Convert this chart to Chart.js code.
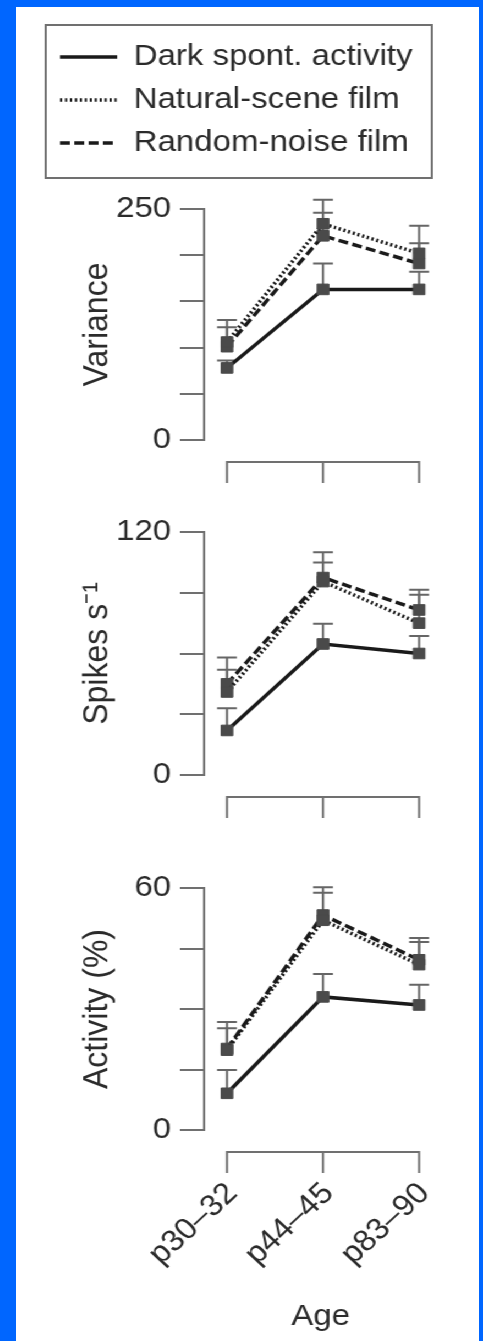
<!DOCTYPE html>
<html>
<head>
<meta charset="utf-8">
<script src="https://cdn.jsdelivr.net/npm/chart.js@4/dist/chart.umd.min.js"></script>
<style>
html, body { margin: 0; padding: 0; background: #0066ff; width: 483px; height: 1341px; overflow: hidden; }
#panel { position: absolute; left: 16px; top: 7px; width: 463px; height: 1334px; background: #fff; }
#wrap { position: absolute; left: 16px; top: 0; width: 421px; height: 1341px; transform: scaleX(1.1); transform-origin: 0 0; }
#wrap canvas { position: absolute; left: 0; }
</style>
</head>
<body>
<div id="panel"></div>
<div id="wrap">
  <canvas id="variance" width="421" height="500" style="top:0px"></canvas>
  <canvas id="spikes" width="421" height="330" style="top:500px"></canvas>
  <canvas id="activity" width="421" height="511" style="top:830px"></canvas>
</div>
<script>
// data
const ages = ['p30–32', 'p44–45', 'p83–90'];
const seriesNames = ['Dark spont. activity', 'Natural-scene film', 'Random-noise film'];

const varianceDark = [78, 163, 163];
const varianceDarkErr = [8, 28, 19];
const varianceNatural = [106, 234, 202];
const varianceNaturalErr = [24, 26, 30];
const varianceRandom = [101, 221, 191];
const varianceRandomErr = [21, 25, 22];
const varianceTicks = [0, 50, 100, 150, 200, 250];

const spikesDark = [22, 64.7, 60];
const spikesDarkErr = [11, 10, 8.6];
const spikesNatural = [41, 95.5, 75];
const spikesNaturalErr = [11, 9.5, 14];
const spikesRandom = [45, 97.5, 81.5];
const spikesRandomErr = [13, 12.5, 10];
const spikesTicks = [0, 30, 60, 90, 120];

const activityDark = [9.1, 33, 31];
const activityDarkErr = [5.8, 5.7, 5];
const activityNatural = [19.8, 52, 41];
const activityNaturalErr = [7, 6.8, 5.6];
const activityRandom = [20.2, 53.3, 42.2];
const activityRandomErr = [5, 6.9, 5.4];
const activityTicks = [0, 15, 30, 45, 60];

const FONT = '"Liberation Sans", Arial, Helvetica, sans-serif';
const INK = '#2b2b2b';
const AXIS = '#707070';
const X_MIN = -0.238;
const X_MAX = 2.19;

Chart.defaults.font.family = FONT;

const lineStyles = [
    { borderColor: '#1a1a1a', borderWidth: 3.5, borderDash: [] },
    { borderColor: '#1a1a1a', borderWidth: 3.5, borderDash: [2, 2.5] },
    { borderColor: '#1a1a1a', borderWidth: 3.5, borderDash: [9, 4] }
];

function makeDatasets(series, errors) {
    return series.map(function (values, s) {
        return Object.assign({
            label: seriesNames[s],
            data: values.map(function (v, i) { return { x: i, y: v }; }),
            errors: errors[s],
            tension: 0,
            fill: false,
            pointStyle: 'rect',
            pointRadius: 7.5,
            pointBackgroundColor: '#4a4a4a',
            pointBorderColor: '#4a4a4a',
            pointBorderWidth: 1
        }, lineStyles[s]);
    });
}

// upward error bars with caps
const errorBars = {
    id: 'errorBars',
    beforeDatasetsDraw(chart) {
        const ctx = chart.ctx, y = chart.scales.y;
        ctx.save();
        ctx.strokeStyle = '#666';
        ctx.lineWidth = 2;
        chart.data.datasets.forEach(function (ds, i) {
            chart.getDatasetMeta(i).data.forEach(function (pt, j) {
                const top = y.getPixelForValue(ds.data[j].y + ds.errors[j]);
                ctx.beginPath();
                ctx.moveTo(pt.x, pt.y);
                ctx.lineTo(pt.x, top);
                ctx.moveTo(pt.x - 9, top);
                ctx.lineTo(pt.x + 9, top);
                ctx.stroke();
            });
        });
        ctx.restore();
    }
};

// the detached age bracket under each panel
const ageBracket = {
    id: 'ageBracket',
    afterDraw(chart) {
        const x = chart.scales.x, ctx = chart.ctx;
        const top = chart.chartArea.bottom + 22, bottom = top + 21;
        const xs = ages.map(function (a, i) { return x.getPixelForValue(i); });
        ctx.save();
        ctx.strokeStyle = AXIS;
        ctx.lineWidth = 2;
        ctx.beginPath();
        ctx.moveTo(xs[0], bottom);
        ctx.lineTo(xs[0], top);
        ctx.lineTo(xs[2], top);
        ctx.lineTo(xs[2], bottom);
        ctx.moveTo(xs[1], top);
        ctx.lineTo(xs[1], bottom);
        ctx.stroke();
        ctx.restore();
    }
};

// extra room under the legend and a frame round it
const legendFrame = {
    id: 'legendFrame',
    beforeInit(chart) {
        const fit = chart.legend.fit;
        chart.legend.fit = function () {
            fit.call(this);
            this.height += 41;
        };
    },
    afterDraw(chart) {
        const lg = chart.legend, ctx = chart.ctx;
        ctx.save();
        ctx.strokeStyle = AXIS;
        ctx.lineWidth = 2;
        ctx.strokeRect(lg.left, lg.top - 4, 351, 153);
        ctx.restore();
    }
};

function yAxis(title, tickVals) {
    const last = tickVals[tickVals.length - 1];
    return {
        type: 'linear',
        min: tickVals[0],
        max: last,
        afterFit: function (scale) { scale.width = 144; },
        afterBuildTicks: function (scale) {
            scale.ticks = tickVals.map(function (v) { return { value: v }; });
        },
        border: { display: true, color: AXIS, width: 2 },
        grid: {
            display: true, drawOnChartArea: false, drawTicks: true,
            tickLength: 22, tickWidth: 2, tickColor: AXIS, color: AXIS, lineWidth: 2
        },
        ticks: {
            autoSkip: false, padding: 8, color: INK, font: { size: 30 },
            callback: function (v) { return (v === tickVals[0] || v === last) ? String(v) : ''; }
        },
        title: { display: true, text: title, color: INK, font: { size: 32 }, padding: { top: 28, bottom: 0 } }
    };
}

function xAxis(showLabels) {
    if (!showLabels) {
        return { type: 'linear', display: false, min: X_MIN, max: X_MAX };
    }
    return {
        type: 'linear',
        min: X_MIN,
        max: X_MAX,
        afterBuildTicks: function (scale) {
            scale.ticks = ages.map(function (a, i) { return { value: i }; });
        },
        afterFit: function (scale) { scale.height = 211; },
        border: { display: false },
        grid: {
            display: true, drawOnChartArea: false, drawTicks: true, tickLength: 46,
            tickColor: 'rgba(0,0,0,0)', color: 'rgba(0,0,0,0)'
        },
        ticks: {
            autoSkip: false, minRotation: 45, maxRotation: 45, padding: 0, labelOffset: 5,
            color: INK, font: { size: 30 },
            callback: function (v) { return ages[v]; }
        },
        title: { display: true, text: 'Age', color: INK, font: { size: 30 }, padding: { top: 0, bottom: 6 } }
    };
}

function makeChart(id, datasets, yTitle, tickVals, padding, withLegend, withLabels) {
    const plugins = [errorBars, ageBracket];
    if (withLegend) plugins.push(legendFrame);
    return new Chart(document.getElementById(id), {
        type: 'line',
        data: { datasets: datasets },
        options: {
            responsive: false,
            animation: false,
            devicePixelRatio: 1,
            layout: { padding: padding },
            scales: { x: xAxis(withLabels), y: yAxis(yTitle, tickVals) },
            plugins: {
                tooltip: { enabled: false },
                legend: {
                    display: withLegend,
                    position: 'top',
                    align: 'start',
                    labels: {
                        usePointStyle: true,
                        pointStyle: 'line',
                        pointStyleWidth: 52,
                        padding: 13,
                        color: INK,
                        font: { size: 30 },
                        generateLabels: function (chart) {
                            return Chart.defaults.plugins.legend.labels.generateLabels(chart).map(function (item) {
                                const ds = chart.data.datasets[item.datasetIndex];
                                return Object.assign(item, {
                                    strokeStyle: ds.borderColor,
                                    lineWidth: ds.borderWidth,
                                    lineDash: ds.borderDash,
                                    lineCap: 'butt'
                                });
                            });
                        }
                    }
                }
            }
        },
        plugins: plugins
    });
}

makeChart('variance',
    makeDatasets([varianceDark, varianceNatural, varianceRandom], [varianceDarkErr, varianceNaturalErr, varianceRandomErr]),
    'Variance', varianceTicks, { top: 29, left: 27, right: 38, bottom: 60 }, true, false);

makeChart('spikes',
    makeDatasets([spikesDark, spikesNatural, spikesRandom], [spikesDarkErr, spikesNaturalErr, spikesRandomErr]),
    'Spikes s⁻¹', spikesTicks, { top: 32, left: 27, right: 38, bottom: 55 }, false, false);

makeChart('activity',
    makeDatasets([activityDark, activityNatural, activityRandom], [activityDarkErr, activityNaturalErr, activityRandomErr]),
    'Activity (%)', activityTicks, { top: 58, left: 27, right: 38, bottom: 0 }, false, true);
</script>
</body>
</html>
